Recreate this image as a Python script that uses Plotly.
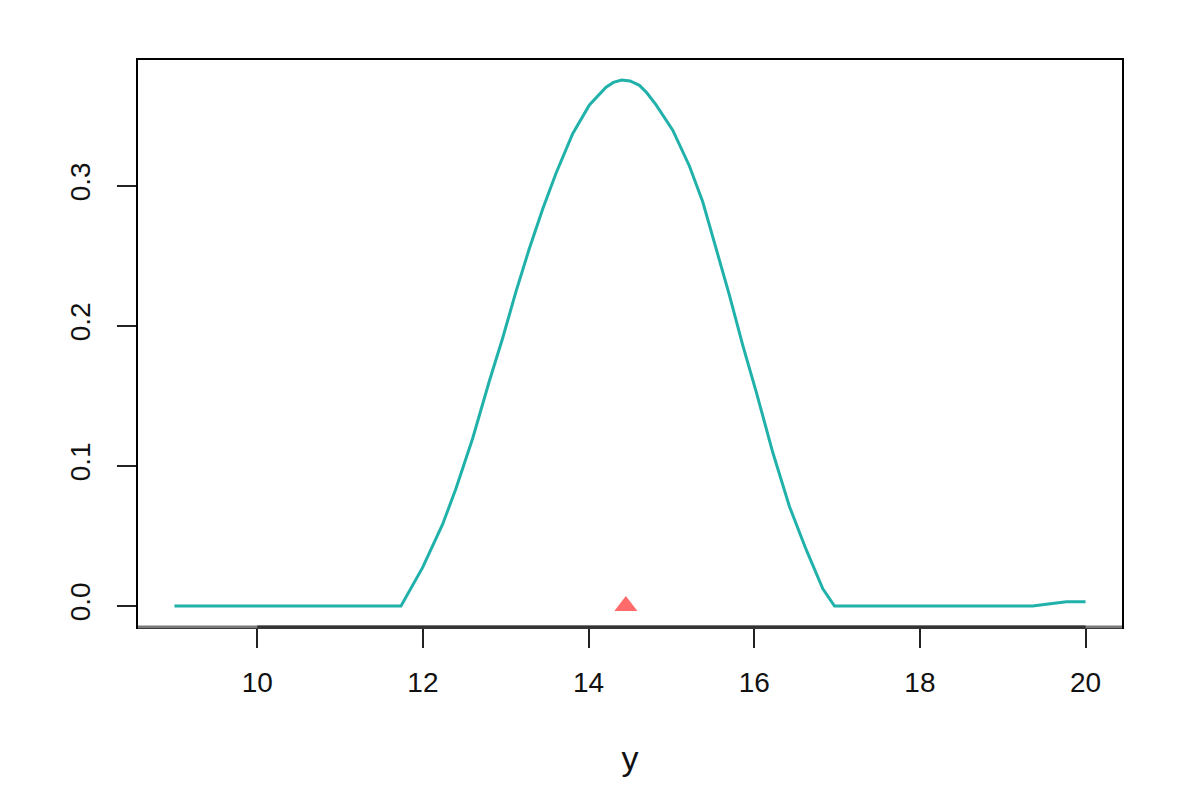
import plotly.graph_objects as go

# density curve
x_vals = [9.0, 10.0, 11.0, 11.735, 11.997, 12.238, 12.399, 12.601, 12.802, 12.963,
          13.124, 13.285, 13.446, 13.607, 13.808, 14.01, 14.211, 14.30, 14.40, 14.50,
          14.614, 14.70, 14.815, 15.016, 15.217, 15.378, 15.539, 15.70, 15.861,
          16.023, 16.224, 16.425, 16.626, 16.828, 16.969, 18.0, 19.0, 19.36, 19.55,
          19.77, 20.0]
y_vals = [0.0, 0.0, 0.0, 0.0, 0.0276, 0.0584, 0.0839, 0.1198, 0.1607, 0.1914,
          0.2247, 0.2554, 0.2836, 0.3091, 0.3374, 0.3579, 0.3706, 0.3740, 0.3757, 0.3750,
          0.3719, 0.3668, 0.3579, 0.3399, 0.3143, 0.2887, 0.2554, 0.2221, 0.1864,
          0.1531, 0.1096, 0.0711, 0.0404, 0.0123, 0.0, 0.0, 0.0, 0.0, 0.0015,
          0.0030, 0.0031]

marker_x = [14.45]
marker_y = [0.0]

x_ticks = [10, 12, 14, 16, 18, 20]
y_ticks = [0.0, 0.1, 0.2, 0.3]
y_tick_text = ["0.0", "0.1", "0.2", "0.3"]

fig = go.Figure()
fig.add_trace(go.Scatter(x=x_vals, y=y_vals, mode="lines",
                         line=dict(color="#20B2AA", width=3),
                         showlegend=False, hoverinfo="skip"))
fig.add_trace(go.Scatter(x=marker_x, y=marker_y, mode="markers",
                         marker=dict(symbol="triangle-up", size=20, color="#FF6B6B"),
                         showlegend=False))

# bottom of the box is grey, R's axis line (first to last tick) darker on top of it
fig.add_shape(type="line", xref="paper", yref="paper", x0=0, x1=1,
              y0=0, y1=0, line=dict(color="#7a7a7a", width=3))
fig.add_shape(type="line", xref="x", yref="paper", x0=x_ticks[0], x1=x_ticks[-1],
              y0=0, y1=0, line=dict(color="#333333", width=3))

font = dict(family="Liberation Sans, Arial, sans-serif", size=28, color="#111111")

fig.update_layout(
    width=1196, height=812,
    margin=dict(l=130, r=82, t=52, b=193),
    plot_bgcolor="white", paper_bgcolor="white",
    font=font,
    xaxis=dict(range=[8.56, 20.44], tickvals=x_ticks, ticks="outside", ticklen=19,
               tickwidth=2, tickcolor="#222222", showline=True, mirror=True,
               linecolor="black", linewidth=2, showgrid=False, zeroline=False,
               ticklabelstandoff=10,
               title=dict(text="y", standoff=50)),
    yaxis=dict(range=[-0.015, 0.39], tickvals=y_ticks, ticktext=y_tick_text,
               tickangle=-90, ticks="outside", ticklen=19, tickwidth=2,
               tickcolor="#222222", showline=True, mirror=True, linecolor="black",
               linewidth=2, showgrid=False, zeroline=False, ticklabelstandoff=16),
)

fig.write_html("out.html")
